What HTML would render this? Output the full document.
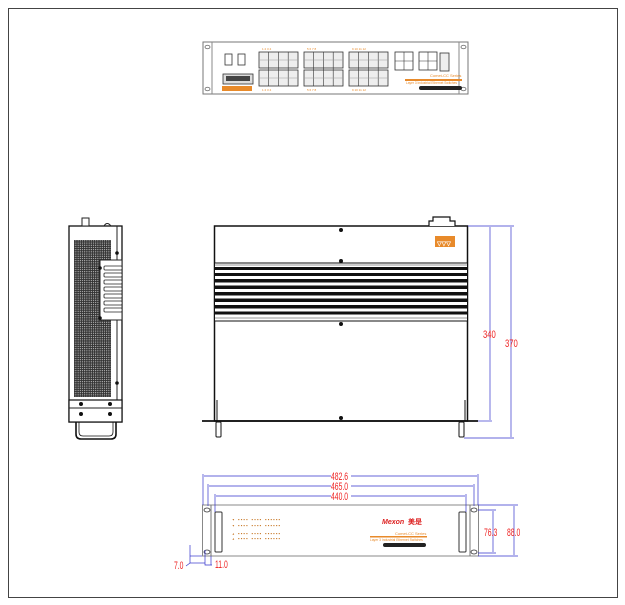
<!DOCTYPE html>
<html><head><meta charset="utf-8"><style>
html,body{margin:0;padding:0;background:#fff;width:625px;height:605px;overflow:hidden}
svg{display:block}
</style></head><body>
<svg width="625" height="605" viewBox="0 0 625 605" xmlns="http://www.w3.org/2000/svg" font-family="Liberation Sans, sans-serif">
<defs>
<pattern id="perf" width="2.2" height="2.2" patternUnits="userSpaceOnUse"><rect width="2.2" height="2.2" fill="#333"/><circle cx="1.1" cy="1.1" r="0.5" fill="#fff"/></pattern>
</defs>
<rect x="8.5" y="8.5" width="609" height="589" fill="none" stroke="#444" stroke-width="1"/>

<!-- TOP FRONT PANEL -->
<g>
<rect x="203" y="42" width="265" height="52" fill="#fff" stroke="#777" stroke-width="1"/>
<line x1="212" y1="42" x2="212" y2="94" stroke="#888"/>
<line x1="459" y1="42" x2="459" y2="94" stroke="#888"/>
<ellipse cx="207.5" cy="47" rx="2.5" ry="1.8" fill="none" stroke="#444" stroke-width="0.7"/>
<ellipse cx="207.5" cy="89" rx="2.5" ry="1.8" fill="none" stroke="#444" stroke-width="0.7"/>
<ellipse cx="463.5" cy="47" rx="2.5" ry="1.8" fill="none" stroke="#444" stroke-width="0.7"/>
<ellipse cx="463.5" cy="89" rx="2.5" ry="1.8" fill="none" stroke="#444" stroke-width="0.7"/>
<rect x="225" y="54" width="7" height="11" fill="none" stroke="#333" stroke-width="0.8"/>
<rect x="238" y="54" width="7" height="11" fill="none" stroke="#333" stroke-width="0.8"/>
<rect x="223" y="74" width="30" height="10" fill="#ddd" stroke="#333" stroke-width="0.8"/>
<rect x="226" y="76" width="24" height="5" fill="#444"/>
<rect x="222" y="86" width="30" height="5" fill="#e88a2a"/>
<g fill="#eee" stroke="#333" stroke-width="0.8">
<rect x="259" y="52" width="39" height="16"/><rect x="259" y="70" width="39" height="16"/>
<rect x="304" y="52" width="39" height="16"/><rect x="304" y="70" width="39" height="16"/>
<rect x="349" y="52" width="39" height="16"/><rect x="349" y="70" width="39" height="16"/>
<rect x="395" y="52" width="18" height="18" fill="#fff"/><rect x="419" y="52" width="18" height="18" fill="#fff"/>
<rect x="440" y="53" width="9" height="18"/>
</g>
<g stroke="#333" stroke-width="0.6">
<line x1="268.7" y1="52" x2="268.7" y2="86"/><line x1="278.5" y1="52" x2="278.5" y2="86"/><line x1="288.2" y1="52" x2="288.2" y2="86"/>
<line x1="313.7" y1="52" x2="313.7" y2="86"/><line x1="323.5" y1="52" x2="323.5" y2="86"/><line x1="333.2" y1="52" x2="333.2" y2="86"/>
<line x1="358.7" y1="52" x2="358.7" y2="86"/><line x1="368.5" y1="52" x2="368.5" y2="86"/><line x1="378.2" y1="52" x2="378.2" y2="86"/>
<line x1="259" y1="60" x2="298" y2="60" stroke="#999"/><line x1="259" y1="78" x2="298" y2="78" stroke="#999"/>
<line x1="304" y1="60" x2="343" y2="60" stroke="#999"/><line x1="304" y1="78" x2="343" y2="78" stroke="#999"/>
<line x1="349" y1="60" x2="388" y2="60" stroke="#999"/><line x1="349" y1="78" x2="388" y2="78" stroke="#999"/>
<line x1="404" y1="52" x2="404" y2="70"/><line x1="395" y1="61" x2="413" y2="61"/>
<line x1="428" y1="52" x2="428" y2="70"/><line x1="419" y1="61" x2="437" y2="61"/>
</g>
<g fill="#e88a2a" font-size="3">
<text x="262" y="50">1 2 3 4</text><text x="307" y="50">5 6 7 8</text><text x="352" y="50">9 10 11 12</text>
<text x="262" y="91">1 2 3 4</text><text x="307" y="91">5 6 7 8</text><text x="352" y="91">9 10 11 12</text>
</g>
<text x="430" y="77" font-size="4" fill="#e88a2a">Comet-CC Series</text>
<rect x="405" y="79" width="57" height="2" fill="#e88a2a"/>
<text x="406" y="84" font-size="3.2" fill="#e88a2a">Layer 3 Industrial Ethernet Switches</text>
<rect x="419" y="86" width="43" height="4" rx="2" fill="#222"/>
</g>

<!-- SIDE VIEW -->
<g>
<rect x="69" y="226" width="53" height="196" fill="#fff" stroke="#111" stroke-width="1.3"/>
<line x1="117" y1="226" x2="117" y2="400" stroke="#222"/>
<rect x="74" y="240" width="37" height="157" fill="url(#perf)"/>
<rect x="100" y="260" width="22" height="60" fill="#fff" stroke="#222"/>
<g fill="#fff" stroke="#222" stroke-width="0.8">
<rect x="104" y="266" width="18" height="4" rx="1"/><rect x="104" y="273" width="18" height="4" rx="1"/><rect x="104" y="280" width="18" height="4" rx="1"/>
<rect x="104" y="287" width="18" height="4" rx="1"/><rect x="104" y="294" width="18" height="4" rx="1"/><rect x="104" y="301" width="18" height="4" rx="1"/><rect x="104" y="308" width="18" height="4" rx="1"/>
</g>
<rect x="69" y="400" width="53" height="22" fill="#fff" stroke="#111" stroke-width="1.2"/>
<line x1="69" y1="408" x2="122" y2="408" stroke="#222"/>
<circle cx="81" cy="404" r="2" fill="#111"/><circle cx="110" cy="404" r="2" fill="#111"/>
<circle cx="81" cy="414" r="2" fill="#111"/><circle cx="110" cy="414" r="2" fill="#111"/>
<circle cx="117" cy="253" r="1.8" fill="#111"/><circle cx="117" cy="383" r="1.8" fill="#111"/>
<circle cx="100" cy="268" r="1.8" fill="#111"/><circle cx="100" cy="318" r="1.8" fill="#111"/>
<path d="M76 422 V434 Q76 439 81 439 H111 Q116 439 116 434 V422" fill="none" stroke="#111" stroke-width="1.6"/>
<path d="M79 422 V432 Q79 436 83 436 H109 Q113 436 113 432 V422" fill="none" stroke="#111" stroke-width="0.8"/>
<rect x="82" y="218" width="7" height="8" fill="#fff" stroke="#222"/>
<path d="M104 226 q3 -5 7 0" fill="none" stroke="#222"/>
</g>

<!-- MAIN VIEW -->
<g>
<rect x="214.5" y="226" width="253" height="195" fill="#fff" stroke="#111" stroke-width="1.5"/>
<rect x="214.5" y="263" width="253" height="58" fill="#fff" stroke="#111"/>
<g fill="#111">
<rect x="215" y="267" width="252" height="3"/><rect x="215" y="273" width="252" height="3"/><rect x="215" y="279" width="252" height="3.5"/>
<rect x="215" y="285.5" width="252" height="3.5"/><rect x="215" y="292" width="252" height="3.5"/><rect x="215" y="298.5" width="252" height="3.5"/>
<rect x="215" y="305" width="252" height="3.5"/><rect x="215" y="311.5" width="252" height="3"/>
</g>
<line x1="215" y1="265" x2="467" y2="265" stroke="#999"/>
<line x1="215" y1="318" x2="467" y2="318" stroke="#999"/>
<circle cx="341" cy="230" r="2" fill="#111"/><circle cx="341" cy="261" r="2" fill="#111"/>
<circle cx="341" cy="324" r="2" fill="#111"/><circle cx="341" cy="418" r="2" fill="#111"/>
<rect x="435" y="236" width="20" height="11" fill="#e88a2a"/>
<text x="437" y="245.5" font-size="6" fill="#fff" font-weight="bold">▽▽▽</text>
<path d="M429 226 V221 H433 V217 H450 V221 H455 V226" fill="#fff" stroke="#111" stroke-width="1.2"/>
<line x1="202" y1="421" x2="478" y2="421" stroke="#111" stroke-width="1.8"/>
<line x1="217" y1="400" x2="217" y2="421" stroke="#111"/>
<line x1="465" y1="400" x2="465" y2="421" stroke="#111"/>
<rect x="216" y="422" width="5" height="15" rx="1" fill="#fff" stroke="#111"/>
<rect x="459" y="422" width="5" height="15" rx="1" fill="#fff" stroke="#111"/>
<g stroke="#33c" stroke-width="0.7">
<line x1="468" y1="226" x2="514" y2="226"/>
<line x1="478" y1="421" x2="492" y2="421"/>
<line x1="464" y1="438" x2="514" y2="438"/>
<line x1="490" y1="227" x2="490" y2="420"/>
<line x1="511" y1="227" x2="511" y2="437"/>
</g>
<text transform="translate(483,338) scale(0.7,1)" font-size="11" fill="#e22">340</text>
<text transform="translate(505,347) scale(0.7,1)" font-size="11" fill="#e22">370</text>
</g>

<!-- BOTTOM FRONT VIEW -->
<g>
<rect x="202.5" y="505" width="276" height="51" fill="#fff" stroke="#888" stroke-width="1"/>
<line x1="211" y1="505" x2="211" y2="556" stroke="#777"/>
<line x1="470" y1="505" x2="470" y2="556" stroke="#777"/>
<ellipse cx="207" cy="510" rx="3" ry="2" fill="none" stroke="#333" stroke-width="0.8"/>
<ellipse cx="207" cy="552" rx="3" ry="2" fill="none" stroke="#333" stroke-width="0.8"/>
<ellipse cx="474" cy="510" rx="3" ry="2" fill="none" stroke="#333" stroke-width="0.8"/>
<ellipse cx="474" cy="552" rx="3" ry="2" fill="none" stroke="#333" stroke-width="0.8"/>
<rect x="215" y="512" width="7" height="40" rx="1" fill="#fff" stroke="#333"/>
<rect x="459" y="512" width="7" height="40" rx="1" fill="#fff" stroke="#333"/>
<g font-size="4.5" fill="#c87a2a" font-family="Liberation Mono, monospace" font-weight="bold">
<text x="232" y="521">▾ ▪▪▪▪ ▪▪▪▪ ▪▪▪▪▪▪</text>
<text x="232" y="527">▾ ▪▪▪▪ ▪▪▪▪ ▪▪▪▪▪▪</text>
<text x="232" y="535">▴ ▪▪▪▪ ▪▪▪▪ ▪▪▪▪▪▪</text>
<text x="232" y="540">▴ ▪▪▪▪ ▪▪▪▪ ▪▪▪▪▪▪</text>
</g>
<text x="382" y="524" font-size="7" fill="#d22" font-weight="bold" font-style="italic">Mexon</text>
<text x="408" y="524" font-size="7" fill="#d22" font-weight="bold" font-family="Liberation Sans, Noto Sans CJK SC, sans-serif">美是</text>
<text x="395" y="535" font-size="4" fill="#e88a2a">Comet-CC Series</text>
<rect x="370" y="536" width="57" height="1.5" fill="#e88a2a"/>
<text x="370" y="541" font-size="3.3" fill="#e88a2a">Layer 3 Industrial Ethernet Switches</text>
<rect x="383" y="543" width="43" height="4" rx="2" fill="#222"/>
<g stroke="#33c" stroke-width="0.7" fill="none">
<line x1="203" y1="474" x2="203" y2="505"/><line x1="478" y1="474" x2="478" y2="505"/>
<line x1="208" y1="484" x2="208" y2="506"/><line x1="474" y1="484" x2="474" y2="506"/>
<line x1="215" y1="494" x2="215" y2="512"/><line x1="466" y1="494" x2="466" y2="512"/>
<line x1="204" y1="476" x2="331" y2="476"/><line x1="351" y1="476" x2="477" y2="476"/>
<line x1="209" y1="486" x2="331" y2="486"/><line x1="351" y1="486" x2="473" y2="486"/>
<line x1="216" y1="496" x2="331" y2="496"/><line x1="351" y1="496" x2="465" y2="496"/>
<line x1="478" y1="510" x2="496" y2="510"/><line x1="478" y1="553" x2="496" y2="553"/>
<line x1="478" y1="505" x2="518" y2="505"/><line x1="478" y1="556" x2="518" y2="556"/>
<line x1="493" y1="511" x2="493" y2="552"/><line x1="514" y1="506" x2="514" y2="555"/>
<polyline points="190,545 190,563 186,566"/><line x1="190" y1="556" x2="202" y2="556"/>
<line x1="190" y1="563" x2="205" y2="563"/>
<polyline points="205,550 205,565 212,565"/>
<line x1="211" y1="556" x2="211" y2="565"/>
</g>
<g font-size="11" fill="#e22" font-family="Liberation Sans, sans-serif">
<text transform="translate(331,480) scale(0.62,1)">482.6</text>
<text transform="translate(331,490) scale(0.62,1)">465.0</text>
<text transform="translate(331,500) scale(0.62,1)">440.0</text>
<text transform="translate(484,536) scale(0.62,1)">76.3</text>
<text transform="translate(507,536) scale(0.62,1)">88.0</text>
<text transform="translate(174,569) scale(0.62,1)">7.0</text>
<text transform="translate(215,568) scale(0.62,1)">11.0</text>
</g>
</g>
</svg>
</body></html>
